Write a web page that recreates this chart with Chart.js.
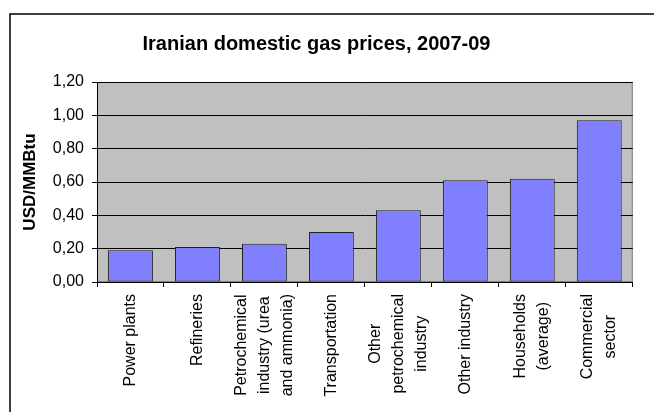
<!DOCTYPE html>
<html>
<head>
<meta charset="utf-8">
<script src="https://cdn.jsdelivr.net/npm/chart.js@4"></script>
<style>
  html,body{margin:0;padding:0;background:#fff;}
  #wrap{position:relative;width:654px;height:412px;}
</style>
</head>
<body>
<div id="wrap"><canvas id="gas-chart" width="654" height="412"></canvas></div>
<script>
// Iranian domestic gas prices by sector (USD/MMBtu)
const sectors = [
  ['Power plants'],
  ['Refineries'],
  ['Petrochemical', 'industry (urea', 'and ammonia)'],
  ['Transportation'],
  ['Other', 'petrochemical', 'industry'],
  ['Other industry'],
  ['Households', '(average)'],
  ['Commercial', 'sector']
];
const prices = [0.19, 0.21, 0.23, 0.30, 0.43, 0.61, 0.62, 0.97];
const yTicks = [0, 0.2, 0.4, 0.6, 0.8, 1.0, 1.2];

const FONT = "'Liberation Sans', Arial, sans-serif";
const LBL = {size:16, lineHeight:1.45, family:FONT};
Chart.defaults.font.family = FONT;
Chart.defaults.color = '#000';
Chart.defaults.animation = false;

// grey plot area + frame around the whole chart
const plotBg = {
  id:'plotBg',
  beforeDraw(chart) {
    const {ctx, chartArea:a} = chart;
    ctx.save();
    ctx.fillStyle = '#c0c0c0';
    ctx.fillRect(a.left, a.top, a.right-a.left, a.bottom-a.top);
    ctx.strokeStyle = '#808080'; ctx.lineWidth = 1;
    ctx.strokeRect(a.left+0.5, a.top+0.5, a.right-a.left-1, a.bottom-a.top-1);
    // outer frame (only top and left are inside the picture)
    ctx.strokeStyle = '#000'; ctx.lineWidth = 1.5;
    ctx.beginPath();
    ctx.moveTo(10, 412); ctx.lineTo(10, 14); ctx.lineTo(654, 14);
    ctx.stroke();
    ctx.restore();
  }
};

// rotated multi-line labels: centre the block on the tick and centre the lines
// against each other, longest line ending just under the axis
const centreLabels = {
  id:'centreLabels',
  beforeDraw(chart) {
    const x = chart.scales.x, ctx = chart.ctx;
    const lh = LBL.size * LBL.lineHeight;
    x.getLabelItems(chart.chartArea).forEach(it => {
      if (it._shifted) return;
      const lines = Array.isArray(it.label) ? it.label : [it.label];
      ctx.save(); ctx.font = it.font.string;
      const w = Math.max(...lines.map(l => ctx.measureText(l).width));
      ctx.restore();
      it.options.translation[0] -= (lines.length-1)*lh/2;
      it.options.translation[1] += w/2;
      it.options.textAlign = 'center';
      it._shifted = true;
    });
  }
};

new Chart(document.getElementById('gas-chart'), {
  type:'bar',
  data:{
    labels:sectors,
    datasets:[{
      data:prices,
      backgroundColor:'#8080ff',
      borderColor:'#222',
      borderWidth:1,
      borderSkipped:false,
      barPercentage:0.67,
      categoryPercentage:1
    }]
  },
  options:{
    responsive:false,
    layout:{padding:{left:0, right:21, top:0, bottom:0}},
    plugins:{
      legend:{display:false},
      tooltip:{enabled:false},
      title:{
        display:true,
        text:'Iranian domestic gas prices, 2007-09',
        font:{size:20, weight:'bold', family:FONT},
        color:'#000',
        padding:{top:32, bottom:26}
      }
    },
    scales:{
      x:{
        grid:{offset:true, drawOnChartArea:false, drawTicks:true, tickLength:5, color:'#000'},
        border:{color:'#000', width:1},
        ticks:{maxRotation:90, minRotation:90, autoSkip:false, padding:7, font:LBL, color:'#000'},
        afterFit(s){ s.height = 130; }
      },
      y:{
        min:0, max:1.2,
        afterBuildTicks(s){ s.ticks = yTicks.map(v=>({value:v})); },
        grid:{color:'#000', lineWidth:1, drawTicks:true, tickLength:5, tickColor:'#000'},
        border:{color:'#000', width:1},
        ticks:{padding:8, font:{size:16, family:FONT}, color:'#000',
          callback:v=>v.toFixed(2).replace('.', ',')},
        title:{display:true, text:'USD/MMBtu', color:'#000',
          font:{size:17, weight:'bold', family:FONT}, padding:{top:20, bottom:0}},
        afterFit(s){ s.width = 97; }
      }
    }
  },
  plugins:[plotBg, centreLabels]
});
</script>
</body>
</html>
